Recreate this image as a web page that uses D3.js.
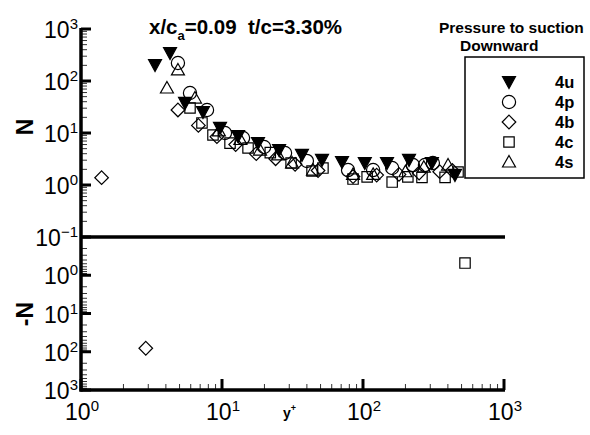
<!DOCTYPE html>
<html><head><meta charset="utf-8">
<script src="https://cdn.jsdelivr.net/npm/d3@7"></script>
<style>body{margin:0;background:#fff}svg{display:block}text{font-family:"Liberation Sans",Arial,sans-serif}</style>
</head><body><svg id="c" width="590" height="435"></svg>
<script>
// ---- data (y+ , N) ; negative N drawn in lower (-N) panel ----
const seriesNames = ["4u","4p","4b","4c","4s"];
const x4u = [3.35,4.28,5.47,7.33,9.68,13.0,18.0,25.4,36.9,51.2,71,103,148,212,308,449];
const n4u = [203,345,37.8,25.3,12.5,8.75,6.42,4.71,3.78,3.03,2.77,2.65,2.65,3.03,2.65,1.56];
const x4p = [4.87,5.93,7.83,10.5,14.1,19.9,28,40,78.3,118,161,226,275,313];
const n4p = [222,58.7,27.7,10,8.0,5.38,4.12,2.9,1.94,1.94,2.12,2.42,2.42,2.65];
const x4b = [1.40,2.88,4.87,6.8,9.2,12.5,17.5,24,33,48,85,125,180,250,350,430];
const n4b = [1.38,-81,27.7,14,8.5,6.0,4.0,3.2,2.5,1.9,1.45,1.55,1.6,1.7,1.8,1.9];
const x4c = [5.93,7.21,8.63,11.4,15.3,22,30.9,43.5,52,85,107,161,208,262,382,472,529];
const n4c = [30.3,15.6,9.16,6.4,5.15,4.2,2.65,1.86,2.12,1.30,1.43,1.14,1.43,1.40,1.40,1.78,-0.48];
const x4s = [4.07,4.87,6.43,9.5,13.5,18.6,25,31.4,44.2,85,118,200,270,401];
const n4s = [73.3,163,47,11,7.5,4.7,3.8,2.65,1.94,1.6,1.6,1.8,2.2,2.42];
const xTickExps = [0,1,2,3];
const upperTickExps = [3,2,1,0,-1];
const lowerTickExps = [0,1,2,3];

const series = [
  {name:"4u", xs:x4u, ns:n4u, sym:"tdown"},
  {name:"4p", xs:x4p, ns:n4p, sym:"circle"},
  {name:"4b", xs:x4b, ns:n4b, sym:"diamond"},
  {name:"4c", xs:x4c, ns:n4c, sym:"square"},
  {name:"4s", xs:x4s, ns:n4s, sym:"tup"}
];

const svg = d3.select("#c");
const L=81, R=504, TOP=29, MID=237, BOT=390;
const x = d3.scaleLog().domain([1,1000]).range([L,R]);
const yU = d3.scaleLog().domain([0.1,1000]).range([MID,TOP]);
const yL = d3.scaleLog().domain([0.1,1000]).range([MID,BOT]);

function symPath(type){
  switch(type){
    case "tdown": return "M-6.5,-5.5L6.5,-5.5L0,6.5Z";
    case "tup": return "M0,-6.5L6.5,5L-6.5,5Z";
    case "square": return "M-5.2,-5.2H5.2V5.2H-5.2Z";
    case "diamond": return "M0,-6.8L6.8,0L0,6.8L-6.8,0Z";
    case "circle": return d3.symbol(d3.symbolCircle, Math.PI*6.6*6.6)();
  }
}
function drawSym(g, type, cx, cy){
  g.append("path").attr("d", symPath(type)).attr("transform",`translate(${cx},${cy})`)
   .attr("fill", type==="tdown" ? "#000" : "none")
   .attr("stroke","#000").attr("stroke-width",1.2);
}

// axes
const ax = svg.append("g");
// minor ticks
const decades = d3.range(-1,3);
decades.forEach(e=>{
  for(let m=2;m<=9;m++){
    const v=m*Math.pow(10,e);
    ax.append("line").attr("x1",L).attr("x2",L+6).attr("y1",yU(v)).attr("y2",yU(v)).attr("stroke","#333").attr("stroke-width",1);
    ax.append("line").attr("x1",L).attr("x2",L+6).attr("y1",yL(v)).attr("y2",yL(v)).attr("stroke","#333").attr("stroke-width",1);
  }
});
d3.range(0,3).forEach(e=>{
  for(let m=2;m<=9;m++){
    const v=m*Math.pow(10,e);
    ax.append("line").attr("x1",x(v)).attr("x2",x(v)).attr("y1",BOT).attr("y2",BOT-6).attr("stroke","#333").attr("stroke-width",1);
  }
});
// major ticks
upperTickExps.forEach(e=>{
  ax.append("line").attr("x1",L).attr("x2",L+10).attr("y1",yU(Math.pow(10,e))).attr("y2",yU(Math.pow(10,e))).attr("stroke","#000").attr("stroke-width",3);
});
lowerTickExps.forEach(e=>{
  ax.append("line").attr("x1",L).attr("x2",L+10).attr("y1",yL(Math.pow(10,e))).attr("y2",yL(Math.pow(10,e))).attr("stroke","#000").attr("stroke-width",3);
});
xTickExps.forEach(e=>{
  ax.append("line").attr("x1",x(Math.pow(10,e))).attr("x2",x(Math.pow(10,e))).attr("y1",BOT).attr("y2",BOT-11).attr("stroke","#000").attr("stroke-width",3);
});
// axis lines
ax.append("line").attr("x1",L).attr("x2",L).attr("y1",TOP-1).attr("y2",BOT+1.5).attr("stroke","#000").attr("stroke-width",3.5);
ax.append("line").attr("x1",L-1.5).attr("x2",R+1).attr("y1",BOT).attr("y2",BOT).attr("stroke","#000").attr("stroke-width",3.5);
ax.append("line").attr("x1",L).attr("x2",R+1).attr("y1",MID).attr("y2",MID).attr("stroke","#000").attr("stroke-width",3.5);

// tick labels
function powLabel(g, e, px, py, anchor){
  const t = g.append("text").attr("x",px).attr("y",py).attr("text-anchor",anchor).attr("font-size",23).attr("fill","#000");
  t.append("tspan").text("10");
  t.append("tspan").attr("dy",-9).attr("font-size",15).text(String(e).replace("-","\u2212"));
}
upperTickExps.forEach(e=>powLabel(svg,e,78,yU(Math.pow(10,e))+9,"end"));
lowerTickExps.forEach(e=>powLabel(svg,e,78,yL(Math.pow(10,e))+9,"end"));
xTickExps.forEach(e=>powLabel(svg,e,x(Math.pow(10,e))+1,420,"middle"));

// axis titles
svg.append("text").attr("transform","translate(33,127) rotate(-90)").attr("text-anchor","middle")
  .attr("font-size",23).attr("font-weight","bold").text("N");
svg.append("text").attr("transform","translate(33,314) rotate(-90)").attr("text-anchor","middle")
  .attr("font-size",23).attr("font-weight","bold").text("-N");
const yl = svg.append("text").attr("x",283).attr("y",418).attr("font-size",14).attr("font-weight","bold");
yl.append("tspan").text("y");
yl.append("tspan").attr("dy",-7).attr("font-size",9).text("+");

// title
const tt = svg.append("text").attr("x",149).attr("y",34).attr("font-size",20.5).attr("font-weight","bold");
tt.append("tspan").text("x/c");
tt.append("tspan").attr("dy",6).attr("font-size",13).text("a");
tt.append("tspan").attr("dy",-6).text("=0.09\u00a0\u00a0t/c=3.30%");

// data
const pts = svg.append("g");
series.forEach(s=>{
  s.xs.forEach((xv,i)=>{
    const n=s.ns[i];
    const cy = n>0 ? yU(n) : yL(-n);
    drawSym(pts, s.sym, x(xv), cy);
  });
});

// legend
svg.append("text").attr("x",439).attr("y",33).attr("font-size",15.5).attr("font-weight","bold").text("Pressure to suction");
svg.append("text").attr("x",460).attr("y",51).attr("font-size",15.5).attr("font-weight","bold").text("Downward");
svg.append("rect").attr("x",465).attr("y",57).attr("width",119).attr("height",121).attr("fill","#fff").attr("stroke","#000").attr("stroke-width",1.5);
series.forEach((s,i)=>{
  drawSym(svg, s.sym, 509, 82+i*20);
  svg.append("text").attr("x",555).attr("y",88+i*20).attr("font-size",16.5).attr("font-weight","bold").text(s.name);
});
</script></body></html>
